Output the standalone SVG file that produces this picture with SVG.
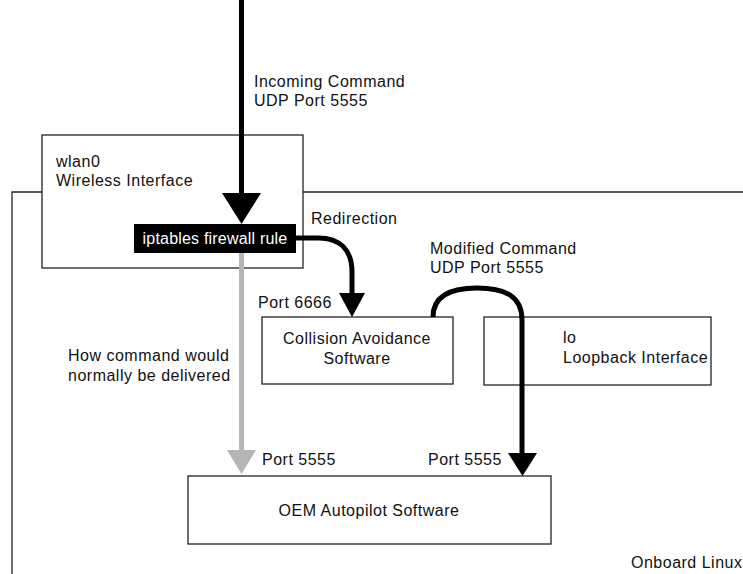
<svg xmlns="http://www.w3.org/2000/svg" width="743" height="574" viewBox="0 0 743 574">
<style>
text{font-family:"Liberation Sans",Arial,Helvetica,sans-serif;font-size:16px;letter-spacing:0.5px;fill:#111}
.box{fill:#fff;stroke:#222;stroke-width:1.3}
.frame{fill:none;stroke:#222;stroke-width:1.3}
.blk{fill:none;stroke:#000;stroke-width:5}
.gry{fill:none;stroke:#b5b5b5;stroke-width:5}
.hb{fill:#000}
.hg{fill:#b5b5b5}
.mid{text-anchor:middle}
</style>
<rect width="743" height="574" fill="#fff"/>
<g id="onboard-linux">
<path class="frame" d="M12,574 V192 H745"/>
<text x="631" y="568">Onboard Linux</text>
</g>
<g id="wlan0">
<rect class="box" x="42" y="135" width="261" height="133"/>
<text x="56" y="167">wlan0</text>
<text x="56" y="186">Wireless Interface</text>
</g>
<g id="iptables">
<rect x="134" y="224" width="162" height="29" fill="#000"/>
<text x="215" y="244" class="mid" style="fill:#fff;letter-spacing:0.2px">iptables firewall rule</text>
</g>
<g id="collision">
<rect class="box" x="262" y="317" width="191" height="67"/>
<text x="357" y="344" class="mid">Collision Avoidance</text>
<text x="357" y="364" class="mid">Software</text>
</g>
<g id="lo">
<rect class="box" x="484" y="317" width="227" height="68"/>
<text x="563" y="343">lo</text>
<text x="563" y="363">Loopback Interface</text>
</g>
<g id="oem">
<rect class="box" x="188" y="476" width="363" height="68"/>
<text x="369" y="516" class="mid">OEM Autopilot Software</text>
</g>
<g id="connectors">
<path class="blk" d="M241.5,0 V196"/>
<polygon class="hb" points="222,193 261,193 241.5,224"/>
<path class="gry" d="M241.5,253 V452"/>
<polygon class="hg" points="227,450 256,450 241.5,474"/>
<path class="blk" d="M296,238 H318 C340,238 352,250 352,272 V296"/>
<polygon class="hb" points="339,293 365,293 352,317"/>
<path class="blk" d="M433,317 C433,296 450,288 477,288 C505,288 522,296 522,320 V455"/>
<polygon class="hb" points="508,453 537,453 522.5,476"/>
<text x="254" y="87">Incoming Command</text>
<text x="254" y="106">UDP Port 5555</text>
<text x="311" y="224">Redirection</text>
<text x="430" y="254">Modified Command</text>
<text x="430" y="273">UDP Port 5555</text>
<text x="258" y="308">Port 6666</text>
<text x="68" y="361">How command would</text>
<text x="68" y="381">normally be delivered</text>
<text x="262" y="465">Port 5555</text>
<text x="428" y="465">Port 5555</text>
</g>
</svg>
